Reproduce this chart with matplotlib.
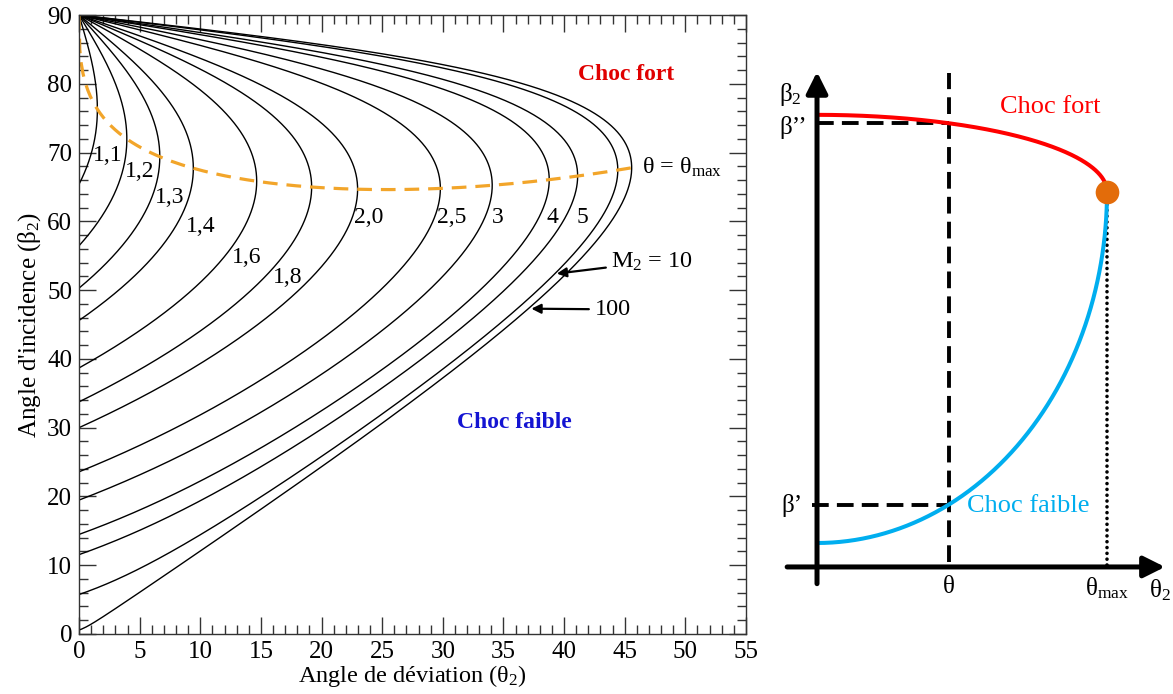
"""
Polaire de choc oblique : angle d'incidence beta en fonction de l'angle de
déviation theta pour plusieurs nombres de Mach, et schéma choc fort / faible.
"""
import numpy as np
import matplotlib
matplotlib.use("Agg")
import matplotlib.pyplot as plt
from matplotlib.ticker import MultipleLocator

plt.rcParams["font.family"] = ["Liberation Serif", "DejaVu Serif"]
plt.rcParams["mathtext.fontset"] = "custom"
plt.rcParams["mathtext.rm"] = "Liberation Serif"
plt.rcParams["mathtext.it"] = "Liberation Serif:italic"
plt.rcParams["mathtext.default"] = "regular"

# --- données ---
GAMMA = 1.4
mach = [1.1, 1.2, 1.3, 1.4, 1.6, 1.8, 2.0, 2.5, 3, 4, 5, 10, 100]
mach_labels = ["1,1", "1,2", "1,3", "1,4", "1,6", "1,8", "2,0", "2,5", "3", "4", "5"]
label_theta = [2.4, 5.0, 7.5, 10.0, 13.8, 17.2, 23.9, 30.7, 34.5, 39.0, 41.5]
label_beta = [69.6, 67.2, 63.4, 59.3, 54.8, 51.9, 60.6, 60.6, 60.6, 60.6, 60.6]
mach_locus = [1.0, 100.0]   # bornes de la courbe theta = theta_max

# schéma de droite (unités arbitraires)
S_THETA_MAX = 1.0
S_BETA_TOP = 1.0
S_BETA_STAR = 0.83
S_BETA_MU = 0.053
S_THETA = 0.455


def theta_deg(M, b):
    t = 2 / np.tan(b) * (M**2 * np.sin(b)**2 - 1) / (M**2 * (GAMMA + np.cos(2 * b)) + 2)
    return np.degrees(np.arctan(t))


def beta_star(M):
    g = GAMMA
    s2 = ((g + 1) * M**2 / 4 - 1 + np.sqrt((g + 1) * (1 + (g - 1) * M**2 / 2 + (g + 1) * M**4 / 16))) / (g * M**2)
    return np.arcsin(np.sqrt(np.clip(s2, 0, 1)))


fig = plt.figure(figsize=(11.73, 6.94), dpi=100)

# ---------------- graphique de gauche ----------------
ax = fig.add_axes([79 / 1173, 60 / 694, 667 / 1173, 619 / 694])
for M in mach:
    b = np.linspace(np.arcsin(1 / M), np.pi / 2, 600)
    ax.plot(theta_deg(M, b), np.degrees(b), color="black", lw=1.0)

Ml = np.geomspace(mach_locus[0], mach_locus[1], 400)
bs = beta_star(Ml)
ax.plot(theta_deg(Ml, bs), np.degrees(bs), color="#f2a52a", lw=2.3, dashes=(4.6, 2.8))

for lab, tx, by in zip(mach_labels, label_theta, label_beta):
    ax.text(tx, by, lab, fontsize=17, ha="center", va="center")

ax.text(46.4, 67.8, r"θ = θ$_{max}$", fontsize=17.5, ha="left", va="center")
ax.text(45.1, 81.3, "Choc fort", fontsize=17, fontweight="bold", color="#e00000",
        ha="center", va="center")
ax.text(35.9, 30.8, "Choc faible", fontsize=17, fontweight="bold", color="#1414d2",
        ha="center", va="center")
ax.annotate(r"M$_2$ = 10", xy=(39.4, 52.4), xytext=(43.9, 54.1), fontsize=17.5,
            va="center", ha="left",
            arrowprops=dict(arrowstyle="-|>", color="black", lw=1.6, mutation_scale=14,
                            shrinkA=2, shrinkB=0))
ax.annotate("100", xy=(37.3, 47.3), xytext=(42.5, 47.2), fontsize=17.5,
            va="center", ha="left",
            arrowprops=dict(arrowstyle="-|>", color="black", lw=1.6, mutation_scale=14,
                            shrinkA=2, shrinkB=0))

ax.set_xlim(0, 55)
ax.set_ylim(0, 90)
ax.xaxis.set_major_locator(MultipleLocator(5))
ax.xaxis.set_minor_locator(MultipleLocator(1))
ax.yaxis.set_major_locator(MultipleLocator(10))
ax.yaxis.set_minor_locator(MultipleLocator(2))
ax.tick_params(which="both", direction="in", top=True, right=True, width=1.0, color="#333333")
ax.tick_params(which="major", length=12, labelsize=18)
ax.tick_params(which="minor", length=6.5)
ax.tick_params(axis="x", pad=5)
ax.tick_params(axis="y", pad=5)
for sp in ax.spines.values():
    sp.set_linewidth(1.0)
    sp.set_color("#333333")
ax.set_xlabel(r"Angle de déviation (θ$_2$)", fontsize=17.5, labelpad=0)
ax.set_ylabel(r"Angle d'incidence (β$_2$)", fontsize=18, labelpad=3)

# ---------------- schéma de droite ----------------
ax2 = fig.add_axes([760 / 1173, 0, 413 / 1173, 1])
ax2.set_xlim(-0.1966, 1.2276)
ax2.set_ylim(-0.281, 1.254)
ax2.axis("off")

t = np.linspace(0, np.pi / 2, 300)
xs = S_THETA_MAX * np.sin(t)
y_fort = S_BETA_STAR + (S_BETA_TOP - S_BETA_STAR) * np.cos(t)
y_faible = S_BETA_STAR - (S_BETA_STAR - S_BETA_MU) * np.cos(t)
c_th = np.sqrt(1 - (S_THETA / S_THETA_MAX) ** 2)
beta_2s = S_BETA_STAR + (S_BETA_TOP - S_BETA_STAR) * c_th
beta_1s = S_BETA_STAR - (S_BETA_STAR - S_BETA_MU) * c_th

# axes fléchés
arrow = dict(arrowstyle="-|>", color="black", lw=3.6, mutation_scale=32, shrinkA=0, shrinkB=0)
ax2.annotate("", xy=(0, 1.095), xytext=(0, -0.037), arrowprops=arrow)
ax2.annotate("", xy=(1.2, 0), xytext=(-0.103, 0), arrowprops=arrow)

dash = dict(color="black", lw=2.8, dashes=(4.3, 2.1))
ax2.plot([S_THETA, S_THETA], [0.011, 1.093], **dash)
ax2.plot([0, S_THETA], [beta_2s, beta_2s], **dash)
ax2.plot([-0.017, S_THETA], [beta_1s, beta_1s], **dash)
ax2.plot([S_THETA_MAX, S_THETA_MAX], [0.005, S_BETA_STAR], color="black", lw=2.6,
         dashes=(0.01, 1.6), dash_capstyle="round")

ax2.plot(xs, y_fort, color="#ff0000", lw=2.9, solid_capstyle="butt")
ax2.plot(xs, y_faible, color="#00aeef", lw=2.9, solid_capstyle="butt")
ax2.scatter([S_THETA_MAX], [S_BETA_STAR], s=290, color="#e36c0a", zorder=5, lw=0)

ax2.text(-0.093, 1.044, r"β$_2$", fontsize=18, ha="center", va="center")
ax2.text(-0.083, 0.973, "β’’", fontsize=18, ha="center", va="center")
ax2.text(-0.086, 0.135, "β’", fontsize=18, ha="center", va="center")
ax2.text(S_THETA, -0.044, "θ", fontsize=18, ha="center", va="center")
ax2.text(0.924, -0.046, r"θ$_{max}$", fontsize=18, ha="left", va="center")
ax2.text(1.183, -0.051, r"θ$_2$", fontsize=18, ha="center", va="center")
ax2.text(0.803, 1.018, "Choc fort", fontsize=19, color="#ff0000", ha="center", va="center")
ax2.text(0.728, 0.135, "Choc faible", fontsize=19, color="#00aeef", ha="center", va="center")

fig.savefig("out.png", dpi=100)
